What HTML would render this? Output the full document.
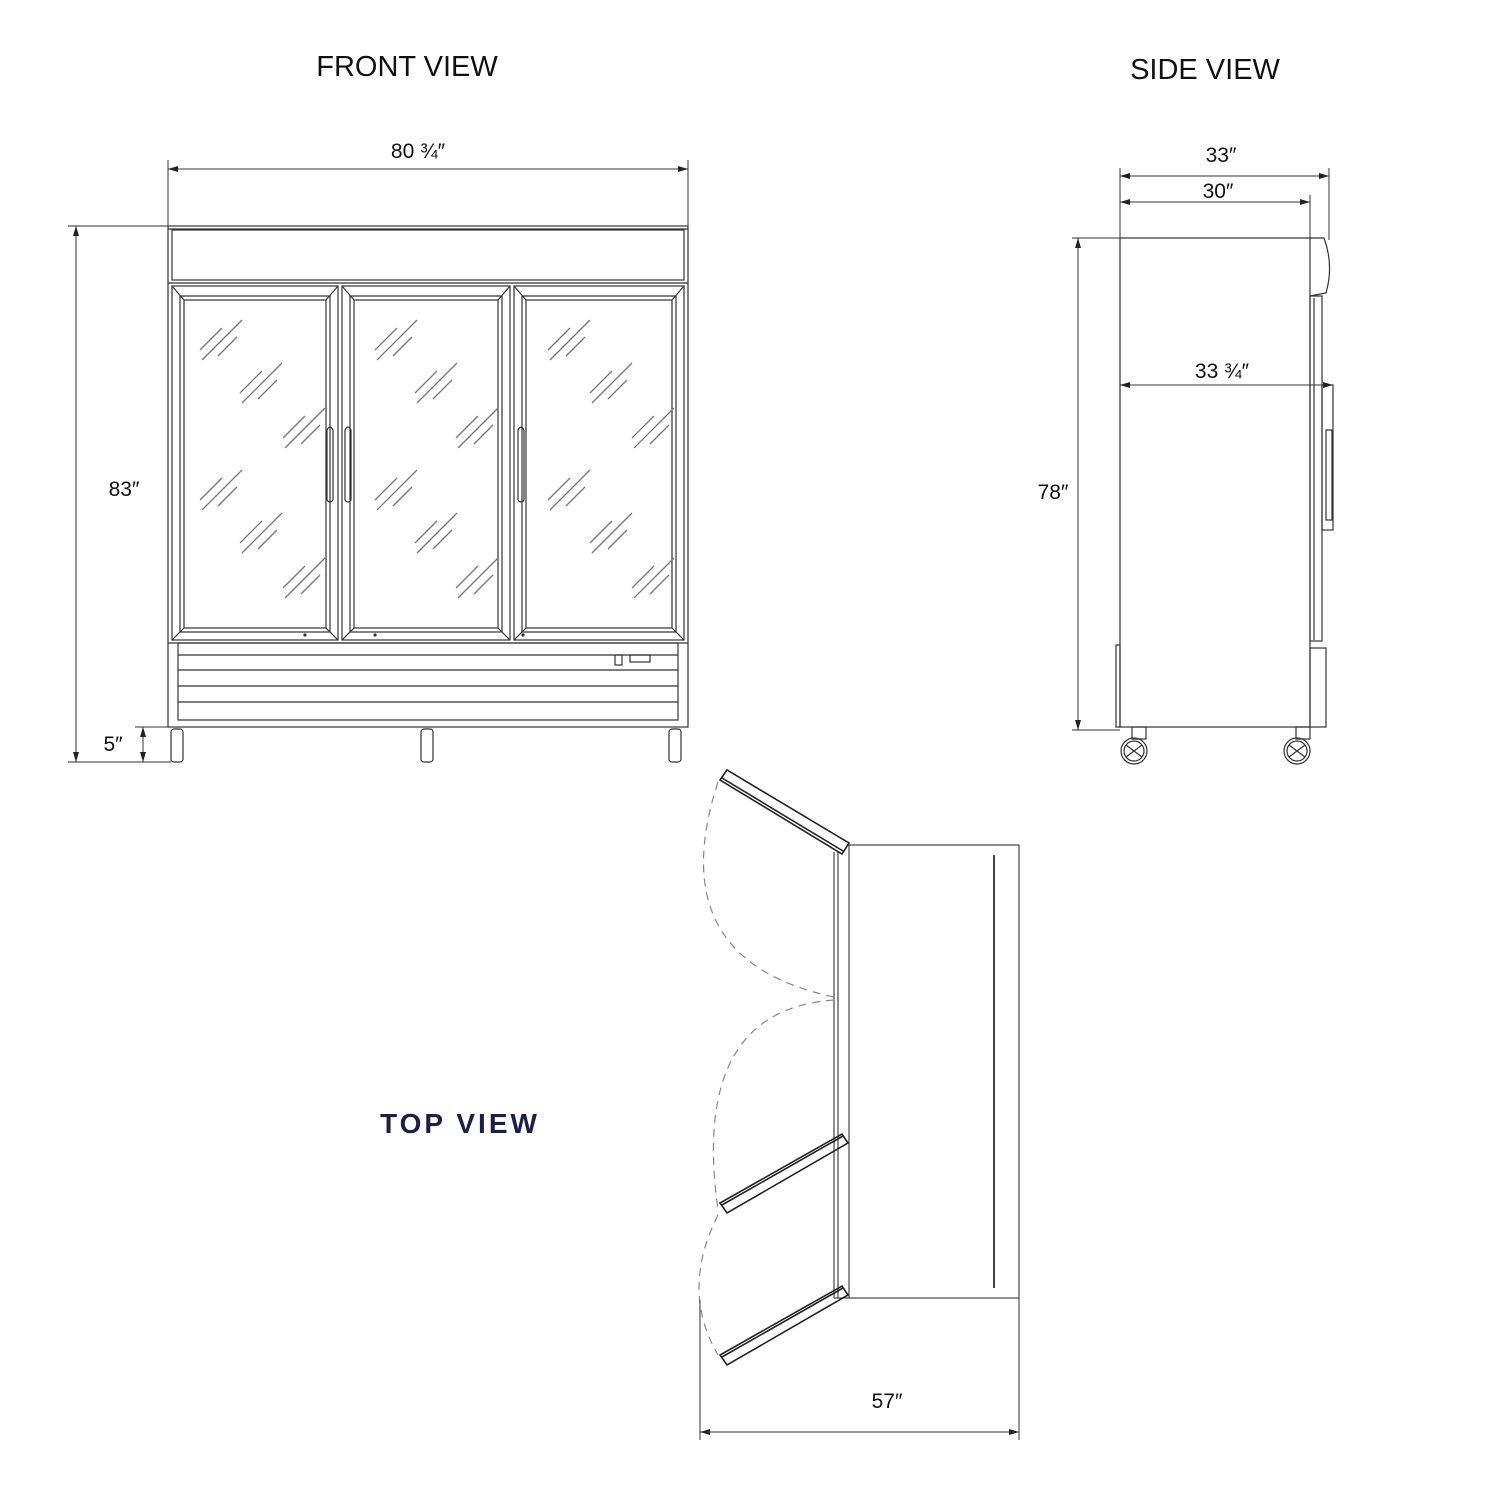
<!DOCTYPE html>
<html><head><meta charset="utf-8"><style>
html,body{margin:0;padding:0;background:#fff}
svg{display:block}
text{font-family:"Liberation Sans",sans-serif;fill:#111}
</style></head><body>
<svg width="1500" height="1500" viewBox="0 0 1500 1500" xmlns="http://www.w3.org/2000/svg">
<defs>
<marker id="ar" viewBox="0 0 10 6" refX="10" refY="3" markerWidth="10" markerHeight="6" orient="auto-start-reverse" markerUnits="userSpaceOnUse"><path d="M0,0 L10,3 L0,6 z" fill="#222"/></marker>
<g id="mk" stroke="#777" stroke-width="1.3">
<line x1="-20" y1="20" x2="20" y2="-20"/><line x1="-22" y1="10" x2="0" y2="-12"/><line x1="-4" y1="16" x2="15" y2="-3"/>
</g>
</defs>
<g fill="none" stroke="#333" stroke-width="1.2">
<!-- ========== FRONT VIEW ========== -->
<rect x="168" y="226" width="520" height="501"/>
<line x1="168" y1="229" x2="688" y2="229"/>
<rect x="172" y="230" width="512" height="50"/>
<line x1="168" y1="283" x2="688" y2="283"/>
<!-- doors -->
<rect x="172" y="286" width="166" height="354"/>
<rect x="180" y="296" width="150" height="336"/>
<rect x="184" y="300" width="142" height="328"/>
<line x1="172" y1="286" x2="184" y2="300"/><line x1="338" y1="286" x2="326" y2="300"/><line x1="172" y1="640" x2="184" y2="628"/><line x1="338" y1="640" x2="326" y2="628"/>
<rect x="342" y="286" width="168" height="354"/>
<rect x="350" y="296" width="152" height="336"/>
<rect x="354" y="300" width="144" height="328"/>
<line x1="342" y1="286" x2="354" y2="300"/><line x1="510" y1="286" x2="498" y2="300"/><line x1="342" y1="640" x2="354" y2="628"/><line x1="510" y1="640" x2="498" y2="628"/>
<rect x="514" y="286" width="170" height="354"/>
<rect x="522" y="296" width="154" height="336"/>
<rect x="526" y="300" width="146" height="328"/>
<line x1="514" y1="286" x2="526" y2="300"/><line x1="684" y1="286" x2="672" y2="300"/><line x1="514" y1="640" x2="526" y2="628"/><line x1="684" y1="640" x2="672" y2="628"/>
<!-- handles -->
<path d="M333,500 L333,430 Q330,424 327,430 L327,500 Q330,504 333,500"/>
<path d="M345,500 L345,430 Q348,424 351,430 L351,500 Q348,504 345,500"/>
<path d="M518,500 L518,430 Q521,424 524,430 L524,500 Q521,504 518,500"/>
<!-- base -->
<line x1="168" y1="643" x2="688" y2="643"/>
<rect x="178" y="643" width="500" height="77"/>
<line x1="178" y1="655" x2="678" y2="655"/>
<line x1="178" y1="670" x2="678" y2="670"/>
<line x1="178" y1="686" x2="678" y2="686"/>
<line x1="178" y1="702" x2="678" y2="702"/>
<rect x="615" y="655" width="7" height="10"/>
<rect x="630" y="655" width="20" height="7"/>
<!-- casters -->
<g>
<rect x="171" y="729" width="12" height="33" rx="3"/>
<rect x="421" y="729" width="12" height="33" rx="3"/>
<rect x="669" y="729" width="12" height="33" rx="3"/>
</g>
</g>
<g fill="#333"><circle cx="305" cy="635" r="1.6"/><circle cx="375" cy="635" r="1.6"/><circle cx="523" cy="635" r="1.6"/></g>
<!-- glass marks -->
<use href="#mk" x="222" y="340"/><use href="#mk" x="262" y="383"/><use href="#mk" x="305" y="428"/>
<use href="#mk" x="222" y="490"/><use href="#mk" x="262" y="533"/><use href="#mk" x="305" y="578"/>
<use href="#mk" x="397" y="340"/><use href="#mk" x="437" y="383"/><use href="#mk" x="478" y="428"/>
<use href="#mk" x="397" y="490"/><use href="#mk" x="437" y="533"/><use href="#mk" x="478" y="578"/>
<use href="#mk" x="570" y="340"/><use href="#mk" x="612" y="383"/><use href="#mk" x="654" y="428"/>
<use href="#mk" x="570" y="490"/><use href="#mk" x="612" y="533"/><use href="#mk" x="654" y="578"/>
<!-- front dims -->
<g stroke="#333" stroke-width="1" fill="none">
<line x1="168" y1="160" x2="168" y2="226"/><line x1="688" y1="160" x2="688" y2="226"/>
<line x1="168" y1="169" x2="688" y2="169" marker-start="url(#ar)" marker-end="url(#ar)"/>
<line x1="68" y1="226" x2="168" y2="226"/><line x1="68" y1="762" x2="171" y2="762"/>
<line x1="76" y1="226" x2="76" y2="762" marker-start="url(#ar)" marker-end="url(#ar)"/>
<line x1="135" y1="727" x2="168" y2="727"/>
<line x1="143" y1="727" x2="143" y2="762" marker-start="url(#ar)" marker-end="url(#ar)"/>
</g>
<text x="407" y="76" font-size="29" text-anchor="middle">FRONT VIEW</text>
<text x="418" y="158" font-size="21" text-anchor="middle">80 ¾″</text>
<text x="124" y="496" font-size="21" text-anchor="middle">83″</text>
<text x="113" y="751" font-size="21" text-anchor="middle">5″</text>

<!-- ========== SIDE VIEW ========== -->
<g fill="none" stroke="#333" stroke-width="1.2">
<rect x="1120" y="238" width="190" height="489"/>
<path d="M1310,238 L1324,238 Q1334,265 1326,293 L1310,296"/>
<rect x="1310" y="296" width="12" height="345"/>
<line x1="1314" y1="298" x2="1314" y2="640"/>
<rect x="1322" y="385" width="11" height="145"/>
<rect x="1326" y="430" width="6" height="90"/>
<rect x="1310" y="648" width="16" height="79"/>
<rect x="1116" y="645" width="4" height="82"/>
<rect x="1132" y="727" width="14" height="12"/>
<rect x="1296" y="727" width="14" height="12"/>
<circle cx="1134" cy="751" r="13"/><circle cx="1134" cy="751" r="10"/>
<circle cx="1297" cy="751" r="13"/><circle cx="1297" cy="751" r="10"/>
<path d="M1126,745 L1142,757 M1126,757 L1142,745 M1289,745 L1305,757 M1289,757 L1305,745"/>
</g>
<g stroke="#333" stroke-width="1" fill="none">
<line x1="1120" y1="168" x2="1120" y2="280"/><line x1="1329" y1="168" x2="1329" y2="240"/><line x1="1310" y1="195" x2="1310" y2="238"/>
<line x1="1120" y1="176" x2="1329" y2="176" marker-start="url(#ar)" marker-end="url(#ar)"/>
<line x1="1120" y1="202" x2="1310" y2="202" marker-start="url(#ar)" marker-end="url(#ar)"/>
<line x1="1120" y1="385" x2="1333" y2="385" marker-start="url(#ar)" marker-end="url(#ar)"/>
<line x1="1072" y1="238" x2="1168" y2="238"/><line x1="1072" y1="730" x2="1120" y2="730"/>
<line x1="1078" y1="238" x2="1078" y2="730" marker-start="url(#ar)" marker-end="url(#ar)"/>
</g>
<text x="1205" y="79" font-size="29" text-anchor="middle">SIDE VIEW</text>
<text x="1221" y="162" font-size="21" text-anchor="middle">33″</text>
<text x="1218" y="198" font-size="21" text-anchor="middle">30″</text>
<text x="1222" y="378" font-size="21" text-anchor="middle">33 ¾″</text>
<text x="1053" y="499" font-size="21" text-anchor="middle">78″</text>

<!-- ========== TOP VIEW ========== -->
<g fill="none" stroke="#444" stroke-width="1.2">
<rect x="849" y="845" width="170" height="453"/>
<line x1="834" y1="852" x2="834" y2="1298"/>
<line x1="838" y1="852" x2="838" y2="1298"/>
<line x1="834" y1="1298" x2="849" y2="1298"/>
<line x1="994" y1="855" x2="994" y2="1288" stroke-width="2"/>
</g>
<g fill="none" stroke="#222" stroke-width="1.6">
<path d="M720,780 L727,770 L849,843 L842,854 Z"/><line x1="722" y1="778" x2="843" y2="851"/>
<path d="M720,1203 L727,1213 L848,1143 L842,1134 Z"/><line x1="722" y1="1205" x2="843" y2="1136"/>
<path d="M720,1355 L727,1365 L848,1295 L842,1286 Z"/><line x1="722" y1="1357" x2="843" y2="1288"/>
</g>
<g fill="none" stroke="#888" stroke-width="1.2" stroke-dasharray="8,6">
<path d="M718,782 Q660,960 834,997"/>
<path d="M834,1000 Q690,1010 718,1210"/>
<path d="M718,1215 Q680,1290 718,1355"/>
</g>
<g stroke="#333" stroke-width="1" fill="none">
<line x1="700" y1="1300" x2="700" y2="1440"/><line x1="1019" y1="1298" x2="1019" y2="1440"/>
<line x1="700" y1="1432" x2="1019" y2="1432" marker-start="url(#ar)" marker-end="url(#ar)"/>
</g>
<text x="887" y="1408" font-size="21" text-anchor="middle">57″</text>
<text x="460" y="1133" font-size="28" font-weight="bold" letter-spacing="3" text-anchor="middle" style="fill:#1c1f4a">TOP VIEW</text>
</svg>
</body></html>
